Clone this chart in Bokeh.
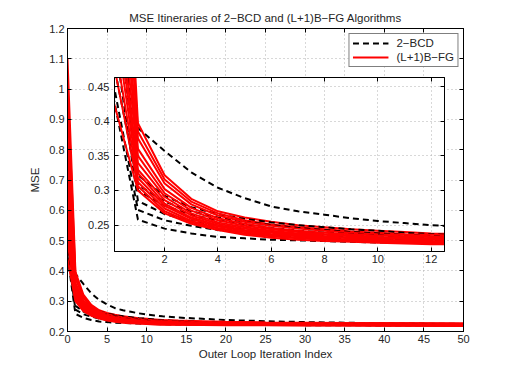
from bokeh.plotting import figure
from bokeh.models import Range1d, FixedTicker, LinearAxis, Legend, LegendItem
from bokeh.layouts import column
from bokeh.embed import file_html
from bokeh.resources import INLINE

# ---------------- data ----------------
ITER = [0, 1, 2, 3, 4, 5, 6, 7, 8, 9, 10, 11, 12, 14, 17, 20, 25, 30, 35, 40, 45, 50]

bcd_1 = [0.56, 0.390, 0.357, 0.326, 0.304, 0.289, 0.277, 0.270, 0.265, 0.260, 0.256, 0.253, 0.250, 0.246, 0.242, 0.238, 0.234, 0.231, 0.229, 0.227, 0.226, 0.225]
bcd_2 = [0.62, 0.322, 0.292, 0.276, 0.266, 0.259, 0.254, 0.250, 0.247, 0.244, 0.242, 0.239, 0.237, 0.234, 0.231, 0.229, 0.227, 0.226, 0.225, 0.2245, 0.224, 0.2235]
bcd_3 = [0.50, 0.308, 0.284, 0.270, 0.261, 0.255, 0.250, 0.246, 0.243, 0.240, 0.238, 0.236, 0.234, 0.232, 0.230, 0.228, 0.226, 0.225, 0.224, 0.2235, 0.223, 0.2225]
bcd_4 = [0.75, 0.300, 0.278, 0.265, 0.257, 0.251, 0.246, 0.242, 0.239, 0.237, 0.235, 0.233, 0.232, 0.230, 0.228, 0.226, 0.225, 0.224, 0.2235, 0.223, 0.2225, 0.222]
bcd_5 = [0.55, 0.285, 0.266, 0.256, 0.249, 0.244, 0.240, 0.237, 0.235, 0.233, 0.231, 0.230, 0.229, 0.227, 0.226, 0.225, 0.224, 0.2235, 0.223, 0.2225, 0.222, 0.2215]
bcd_6 = [0.47, 0.272, 0.257, 0.249, 0.243, 0.239, 0.236, 0.234, 0.232, 0.231, 0.230, 0.229, 0.228, 0.226, 0.225, 0.224, 0.223, 0.2225, 0.222, 0.2215, 0.221, 0.221]
bcd_7 = [0.45, 0.258, 0.245, 0.238, 0.233, 0.231, 0.229, 0.228, 0.227, 0.226, 0.225, 0.2245, 0.224, 0.223, 0.2225, 0.222, 0.2215, 0.221, 0.2205, 0.220, 0.220, 0.2195]

fg_1 = [1.10, 0.397, 0.322, 0.288, 0.270, 0.261, 0.255, 0.250, 0.247, 0.244, 0.242, 0.240, 0.238, 0.236, 0.234, 0.232, 0.230, 0.229, 0.228, 0.2275, 0.227, 0.2265]
fg_2 = [1.02, 0.385, 0.316, 0.284, 0.267, 0.257, 0.251, 0.247, 0.244, 0.241, 0.239, 0.237, 0.236, 0.234, 0.232, 0.231, 0.229, 0.228, 0.2275, 0.227, 0.2265, 0.226]
fg_3 = [0.95, 0.375, 0.310, 0.280, 0.264, 0.255, 0.249, 0.245, 0.242, 0.239, 0.237, 0.236, 0.234, 0.232, 0.231, 0.229, 0.228, 0.227, 0.2265, 0.226, 0.2255, 0.225]
fg_4 = [0.85, 0.360, 0.302, 0.275, 0.260, 0.252, 0.246, 0.242, 0.239, 0.237, 0.235, 0.234, 0.233, 0.231, 0.229, 0.228, 0.227, 0.226, 0.2255, 0.225, 0.2245, 0.224]
fg_5 = [0.78, 0.350, 0.296, 0.271, 0.257, 0.249, 0.244, 0.240, 0.237, 0.235, 0.233, 0.232, 0.231, 0.229, 0.228, 0.227, 0.226, 0.225, 0.2245, 0.224, 0.2235, 0.223]
fg_6 = [0.72, 0.340, 0.291, 0.267, 0.254, 0.247, 0.242, 0.238, 0.236, 0.234, 0.232, 0.231, 0.230, 0.228, 0.227, 0.226, 0.225, 0.224, 0.2235, 0.223, 0.2225, 0.222]
fg_7 = [0.66, 0.330, 0.286, 0.264, 0.252, 0.245, 0.240, 0.237, 0.234, 0.232, 0.231, 0.230, 0.229, 0.227, 0.226, 0.225, 0.224, 0.2235, 0.223, 0.2225, 0.222, 0.2215]
fg_8 = [0.62, 0.325, 0.281, 0.261, 0.250, 0.243, 0.239, 0.235, 0.233, 0.231, 0.229, 0.228, 0.227, 0.226, 0.225, 0.224, 0.2235, 0.223, 0.2225, 0.222, 0.2215, 0.221]
fg_9 = [0.58, 0.318, 0.278, 0.259, 0.248, 0.242, 0.237, 0.234, 0.231, 0.229, 0.228, 0.227, 0.226, 0.225, 0.224, 0.2235, 0.223, 0.2225, 0.222, 0.2215, 0.221, 0.2205]
fg_10 = [0.54, 0.312, 0.274, 0.256, 0.246, 0.240, 0.235, 0.232, 0.230, 0.228, 0.227, 0.226, 0.225, 0.224, 0.223, 0.2225, 0.222, 0.2215, 0.221, 0.2205, 0.220, 0.2195]
fg_11 = [0.50, 0.306, 0.270, 0.254, 0.245, 0.238, 0.234, 0.231, 0.229, 0.227, 0.226, 0.225, 0.224, 0.223, 0.2225, 0.222, 0.2215, 0.221, 0.2205, 0.220, 0.2195, 0.219]
fg_12 = [0.44, 0.300, 0.267, 0.252, 0.243, 0.236, 0.232, 0.229, 0.227, 0.226, 0.2245, 0.2235, 0.2225, 0.222, 0.2215, 0.221, 0.2205, 0.220, 0.2195, 0.219, 0.219, 0.2185]

BCD_RUNS = [bcd_1, bcd_2, bcd_3, bcd_4, bcd_5, bcd_6, bcd_7]
FG_RUNS = [fg_1, fg_2, fg_3, fg_4, fg_5, fg_6, fg_7, fg_8, fg_9, fg_10, fg_11, fg_12]

MAIN_X_TICKS = [0, 5, 10, 15, 20, 25, 30, 35, 40, 45, 50]
MAIN_X_LABELS = ["0", "5", "10", "15", "20", "25", "30", "35", "40", "45", "50"]
MAIN_Y_TICKS = [0.2, 0.3, 0.4, 0.5, 0.6, 0.7, 0.8, 0.9, 1.0, 1.1, 1.2]
MAIN_Y_LABELS = ["0.2", "0.3", "0.4", "0.5", "0.6", "0.7", "0.8", "0.9", "1", "1.1", "1.2"]
INSET_X_TICKS = [2, 4, 6, 8, 10, 12]
INSET_X_LABELS = ["2", "4", "6", "8", "10", "12"]
INSET_Y_TICKS = [0.25, 0.3, 0.35, 0.4, 0.45]
INSET_Y_LABELS = ["0.25", "0.3", "0.35", "0.4", "0.45"]

TITLE = "MSE Itineraries of 2\u2212BCD and (L+1)B\u2212FG Algorithms"
X_LABEL = "Outer Loop Iteration Index"
Y_LABEL = "MSE"
LEG_BCD = "2\u2212BCD"
LEG_FG = "(L+1)B\u2212FG"

FONT = "Liberation Sans"
FS = "11px"
FS_BIG = "11.5px"
GRID_COLOR = "#b0b0b0"
TEXT_COLOR = "#262626"

# shared borders (the column layout aligns the frames of its plots)
B_LEFT, B_RIGHT, B_TOP, B_BOTTOM = 67, 41, 28, 35


def style_axis(ax, ticks, labels, show_labels=True, standoff=3):
    ax.ticker = FixedTicker(ticks=ticks)
    ax.major_label_overrides = {t: l for t, l in zip(ticks, labels)}
    ax.major_tick_in = 4
    ax.major_tick_out = 0
    ax.minor_tick_line_color = None
    ax.axis_line_color = "#000000"
    ax.major_tick_line_color = "#000000"
    ax.major_label_text_font = FONT
    ax.major_label_text_color = TEXT_COLOR
    ax.axis_label_text_font = FONT
    ax.axis_label_text_font_style = "normal"
    ax.axis_label_text_font_size = FS_BIG
    ax.axis_label_text_color = TEXT_COLOR
    if show_labels:
        ax.major_label_text_font_size = FS
        ax.major_label_standoff = standoff
    else:
        ax.major_label_text_font_size = "0px"
        ax.major_label_standoff = 0


def add_box_axes(fig, xt, xl, yt, yl):
    ax_r = LinearAxis()
    style_axis(ax_r, yt, yl, show_labels=False)
    fig.add_layout(ax_r, "right")
    ax_t = LinearAxis()
    style_axis(ax_t, xt, xl, show_labels=False)
    fig.add_layout(ax_t, "above")


# ---------------- main figure ----------------
p = figure(width=B_LEFT + 396 + B_RIGHT, height=B_TOP + 303 + B_BOTTOM,
           output_backend="svg", toolbar_location=None,
           x_range=Range1d(0, 50), y_range=Range1d(0.2, 1.2),
           min_border_left=B_LEFT, min_border_right=B_RIGHT,
           min_border_top=B_TOP, min_border_bottom=B_BOTTOM)
p.title.text = TITLE
p.title.align = "center"
p.title.text_font = FONT
p.title.text_font_size = FS_BIG
p.title.text_font_style = "normal"
p.title.text_color = TEXT_COLOR
p.title.standoff = 9
p.outline_line_color = "#000000"
p.outline_line_width = 1
p.background_fill_color = "white"
p.border_fill_color = "white"

style_axis(p.xaxis[0], MAIN_X_TICKS, MAIN_X_LABELS)
style_axis(p.yaxis[0], MAIN_Y_TICKS, MAIN_Y_LABELS)
p.xaxis[0].axis_label = X_LABEL
p.yaxis[0].axis_label = Y_LABEL
p.xaxis[0].axis_label_standoff = 2
p.yaxis[0].axis_label_standoff = 5
add_box_axes(p, MAIN_X_TICKS, MAIN_X_LABELS, MAIN_Y_TICKS, MAIN_Y_LABELS)

p.xgrid.ticker = FixedTicker(ticks=MAIN_X_TICKS)
p.ygrid.ticker = FixedTicker(ticks=MAIN_Y_TICKS)
p.grid.grid_line_color = GRID_COLOR
p.grid.grid_line_dash = "1 3"
p.grid.grid_line_width = 1

bcd_r = []
fg_r = []
for i in range(max(len(BCD_RUNS), len(FG_RUNS))):
    if i < len(BCD_RUNS):
        bcd_r.append(p.line(ITER, BCD_RUNS[i], line_color="#000000", line_width=2, line_dash="6 4"))
    if i < len(FG_RUNS):
        fg_r.append(p.line(ITER, FG_RUNS[i], line_color="#ff0000", line_width=2))

legend = Legend(items=[LegendItem(label=LEG_BCD, renderers=[bcd_r[0]]),
                       LegendItem(label=LEG_FG, renderers=[fg_r[0]])],
                location="top_right")
legend.margin = 5
legend.padding = 3
legend.spacing = 2
legend.glyph_width = 36
legend.glyph_height = 12
legend.label_height = 12
legend.label_standoff = 8
legend.label_text_font = FONT
legend.label_text_font_size = FS_BIG
legend.label_text_color = TEXT_COLOR
legend.border_line_color = "#000000"
legend.border_line_width = 1
legend.background_fill_color = "white"
legend.background_fill_alpha = 1
p.add_layout(legend, "center")

# ---------------- inset figure (frame 330 x 174) ----------------
q = figure(width=B_LEFT + 330 + B_RIGHT, height=B_TOP + 174 + B_BOTTOM,
           output_backend="svg", toolbar_location=None,
           x_range=Range1d(0.12, 12.5), y_range=Range1d(0.212, 0.463),
           min_border_left=B_LEFT, min_border_right=B_RIGHT,
           min_border_top=B_TOP, min_border_bottom=B_BOTTOM)
q.outline_line_color = "#000000"
q.outline_line_width = 1
q.background_fill_color = "white"
q.border_fill_alpha = 0
q.border_fill_color = None
style_axis(q.xaxis[0], INSET_X_TICKS, INSET_X_LABELS, standoff=3)
style_axis(q.yaxis[0], INSET_Y_TICKS, INSET_Y_LABELS, standoff=5)
add_box_axes(q, INSET_X_TICKS, INSET_X_LABELS, INSET_Y_TICKS, INSET_Y_LABELS)
q.xgrid.ticker = FixedTicker(ticks=INSET_X_TICKS)
q.ygrid.ticker = FixedTicker(ticks=INSET_Y_TICKS)
q.grid.grid_line_color = GRID_COLOR
q.grid.grid_line_dash = "1 3"
q.grid.grid_line_width = 1

for i in range(max(len(BCD_RUNS), len(FG_RUNS))):
    if i < len(BCD_RUNS):
        q.line(ITER, BCD_RUNS[i], line_color="#000000", line_width=2, line_dash="6 4")
    if i < len(FG_RUNS):
        q.line(ITER, FG_RUNS[i], line_color="#ff0000", line_width=2)

# inset frame wanted at page (114, 77)
q.styles = {"position": "absolute", "left": f"{114 - B_LEFT}px", "top": f"{77 - B_TOP}px"}

root = column(p, q, styles={"position": "relative"})

open("out.html", "w").write(file_html(root, INLINE))
